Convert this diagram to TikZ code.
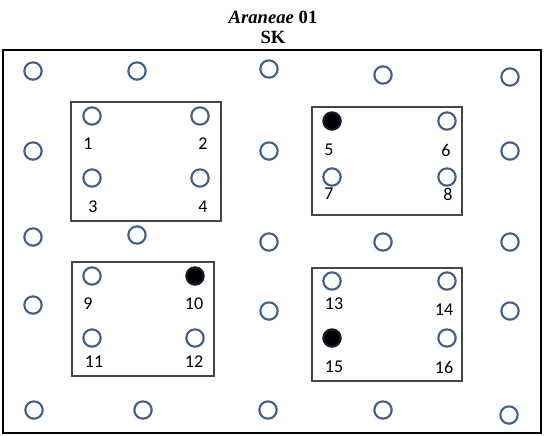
\documentclass[tikz,border=0pt]{standalone}
\usepackage{fontspec}
\setmainfont{Liberation Serif}
\newfontfamily\numfont{Carlito}
\usepackage{xcolor}
\usepackage{tikz}
\usetikzlibrary{positioning}
\definecolor{trapblue}{RGB}{64,98,138}
\definecolor{boxgray}{RGB}{70,70,70}

\begin{document}
\begin{tikzpicture}[x=0.75pt, y=-0.75pt,
  trap/.style={circle, draw=trapblue, line width=1.6pt, minimum size=13pt, inner sep=0pt},
  hit/.style={trap, fill=black, draw=black!70!trapblue},
  num/.style={inner sep=0pt, font=\numfont\fontsize{13.5}{15}\selectfont},
  plot/.style={draw=boxgray, line width=0.8pt},
  title/.style={inner sep=0pt, font=\fontsize{14}{16}\selectfont\bfseries}]

\useasboundingbox (0,0) rectangle (547,436);

% Title
\node[title] (name) at (273,17) {\textit{Araneae} 01};
\node[title] (site) at (273,37) {SK};

% Frame
\draw[line width=1.8pt] (3,50) rectangle (541,433);

% Plots
\draw[plot] (71,102) rectangle (221,221);
\draw[plot] (312,107) rectangle (462,215);
\draw[plot] (72,262) rectangle (214,376);
\draw[plot] (312,268) rectangle (462,381);

% Outer traps
\node[trap] (o1) at (33,71) {};
\node[trap] (o2) at (137,71) {};
\node[trap] (o3) at (269,69) {};
\node[trap] (o4) at (383,75) {};
\node[trap] (o5) at (510,77) {};
\node[trap] (o6) at (33,151) {};
\node[trap] (o7) at (269,151) {};
\node[trap] (o8) at (510,151) {};
\node[trap] (o9) at (33,237) {};
\node[trap] (o10) at (137,235) {};
\node[trap] (o11) at (269,242) {};
\node[trap] (o12) at (383,242) {};
\node[trap] (o13) at (510,242) {};
\node[trap] (o14) at (33,305) {};
\node[trap] (o15) at (269,311) {};
\node[trap] (o16) at (510,311) {};
\node[trap] (o17) at (34,410) {};
\node[trap] (o18) at (143,410) {};
\node[trap] (o19) at (268,410) {};
\node[trap] (o20) at (383,410) {};
\node[trap] (o21) at (509,415) {};

% Plot 1
\node[trap] (t1) at (92,116) {};
\node[trap] (t2) at (200,116) {};
\node[trap] (t3) at (92,178) {};
\node[trap] (t4) at (200,178) {};
\node[num] (n1) at (88,144) {1};
\node[num] (n2) at (203,144) {2};
\node[num] (n3) at (93,207) {3};
\node[num] (n4) at (203,207) {4};

% Plot 2
\node[hit] (t5) at (332,121) {};
\node[trap] (t6) at (447,121) {};
\node[trap] (t7) at (332,177) {};
\node[trap] (t8) at (447,177) {};
\node[num] (n5) at (329,150) {5};
\node[num] (n6) at (446,150) {6};
\node[num] (n7) at (329,194) {7};
\node[num] (n8) at (448,194) {8};

% Plot 3
\node[trap] (t9) at (92,276) {};
\node[hit] (t10) at (195,276) {};
\node[trap] (t11) at (92,338) {};
\node[trap] (t12) at (195,338) {};
\node[num] (n9) at (88,304) {9};
\node[num] (n10) at (194,304) {10};
\node[num] (n11) at (94,362) {11};
\node[num] (n12) at (194,362) {12};

% Plot 4
\node[trap] (t13) at (332,281) {};
\node[trap] (t14) at (447,281) {};
\node[hit] (t15) at (332,338) {};
\node[trap] (t16) at (447,338) {};
\node[num] (n13) at (334,304) {13};
\node[num] (n14) at (444,310) {14};
\node[num] (n15) at (334,367) {15};
\node[num] (n16) at (444,367) {16};

\end{tikzpicture}
\end{document}
